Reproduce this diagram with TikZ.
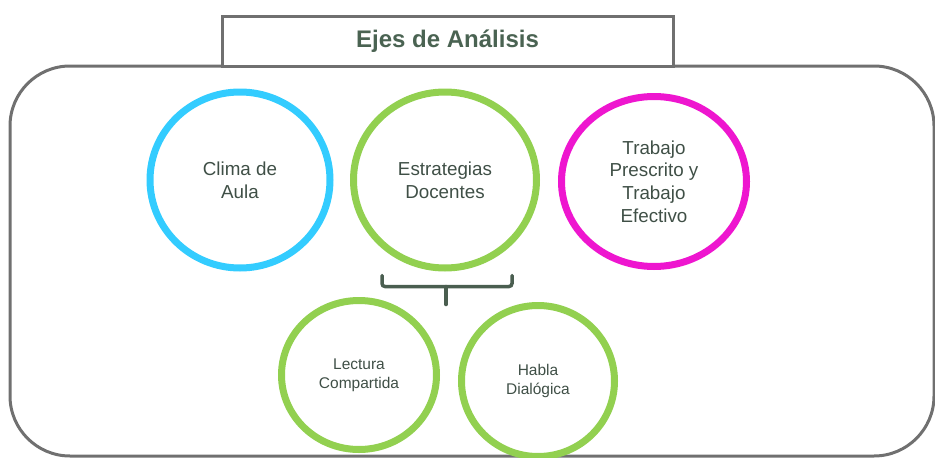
\documentclass[tikz,border=0pt]{standalone}
\usepackage{fontspec}
\setmainfont{Liberation Sans}
\usetikzlibrary{shapes.geometric}
\definecolor{framegray}{HTML}{707070}
\definecolor{titlegreen}{HTML}{4A6352}
\definecolor{txtgray}{HTML}{3F4F46}
\definecolor{cblue}{HTML}{33CCFF}
\definecolor{cgreen}{HTML}{92D050}
\definecolor{cmag}{HTML}{EE16CF}
\definecolor{bracketc}{HTML}{4A5E50}
\tikzset{
  ring/.style={ellipse, draw, line width=7pt, inner sep=0pt, align=center, text=txtgray},
  bigtxt/.style={font=\fontsize{18.8}{22.8}\selectfont},
  smalltxt/.style={font=\fontsize{15.5}{19}\selectfont},
}
\begin{document}
\begin{tikzpicture}[x=1pt,y=-1pt]
\useasboundingbox (0,0) rectangle (935,458);
\begin{scope}
\clip (0,0) rectangle (935,458);
\draw[framegray, line width=3pt, rounded corners=60pt] (10,66) rectangle (934,456);
\end{scope}
\node[draw=framegray, fill=white, line width=3pt, minimum width=451pt, minimum height=50pt, inner sep=0pt,
      text=titlegreen, font=\fontsize{24}{28}\bfseries\selectfont] (title) at (447.5,41) {Ejes de Análisis};
\node[ring, bigtxt, draw=cblue, minimum width=180pt, minimum height=176pt] (clima) at (240,180) {Clima de\\Aula};
\node[ring, bigtxt, draw=cgreen, minimum width=183pt, minimum height=176pt] (estr) at (445,180) {Estrategias\\Docentes};
\node[ring, bigtxt, draw=cmag, minimum width=185pt, minimum height=170pt] (trab) at (654,181.5) {Trabajo\\Prescrito y\\Trabajo\\Efectivo};
\node[ring, smalltxt, draw=cgreen, minimum width=155pt, minimum height=149pt] (lect) at (359,375) {Lectura\\Compartida};
\node[ring, smalltxt, draw=cgreen, minimum width=153pt, minimum height=151pt] (habla) at (538,381) {Habla\\Dialógica};
\draw[bracketc, line width=3.5pt, line cap=round, rounded corners=3pt]
  ([xshift=-63pt,yshift=-4pt]estr.south) -- ([xshift=-63pt,yshift=-15pt]estr.south)
  -- ([xshift=67pt,yshift=-15pt]estr.south) -- ([xshift=67pt,yshift=-4pt]estr.south);
\draw[bracketc, line width=3.5pt, line cap=round]
  ([xshift=1pt,yshift=-15pt]estr.south) -- ([xshift=1pt,yshift=-33pt]estr.south);
\end{tikzpicture}
\end{document}
